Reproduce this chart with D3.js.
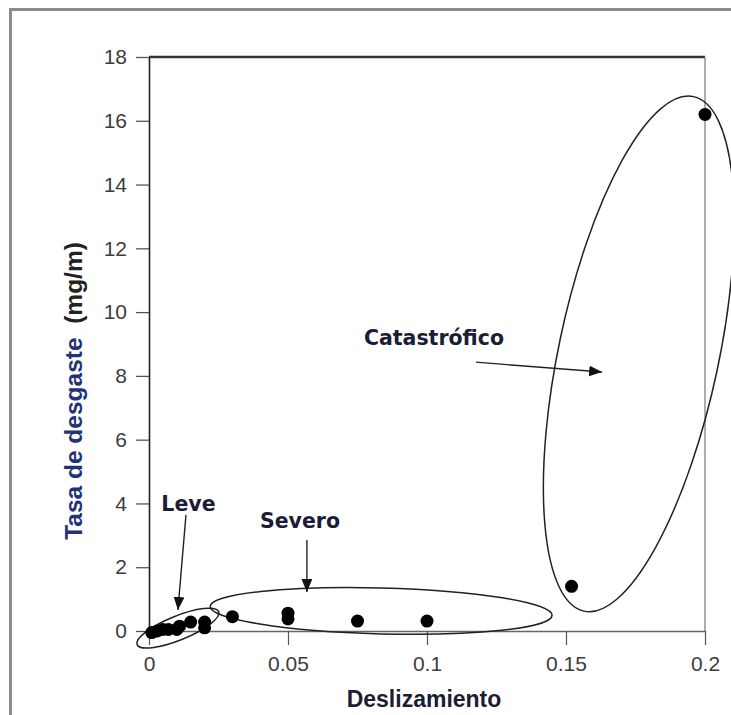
<!DOCTYPE html>
<html>
<head>
<meta charset="utf-8">
<script src="https://cdn.jsdelivr.net/npm/d3@7"></script>
<style>
  body { margin: 0; background: #fff; }
  svg { display: block; }
</style>
</head>
<body>
<script>
// valores
let slip = [0.001, 0.003, 0.005, 0.007, 0.01, 0.011, 0.015, 0.02, 0.02, 0.03, 0.05, 0.05, 0.075, 0.1, 0.152, 0.2]
let wear = [-0.05, 0.0, 0.05, 0.05, 0.05, 0.15, 0.28, 0.28, 0.1, 0.45, 0.56, 0.38, 0.31, 0.31, 1.4, 16.2]

let xTicks = [0, 0.05, 0.1, 0.15, 0.2]
let xTickLabels = ['0', '0.05', '0.1', '0.15', '0.2']
let yTicks = [0, 2, 4, 6, 8, 10, 12, 14, 16, 18]

// regiones: nombre, centro de la elipse, inicio y punta de la flecha, texto
let regionNames = ['Leve', 'Severo', 'Catastrófico']
let regionCenters = [[0.0104, 0.09], [0.0835, 0.63], [0.1762, 8.69]]
let arrowFrom = [[0.0133, 3.64], [0.0568, 2.85], [0.1176, 8.43]]
let arrowTo = [[0.0104, 0.66], [0.0568, 1.22], [0.163, 8.12]]
let labelAt = [[0.0142, 4.0], [0.0543, 3.45], [0.1025, 9.2]]

let width = 731
let height = 715
let margin = { top: 57, bottom: 84, left: 149, right: 26 }

let x = d3.scaleLinear().domain([0, 0.2]).range([margin.left, width - margin.right])
let y = d3.scaleLinear().domain([0, 18]).range([height - margin.bottom, margin.top])

// forma de cada elipse en pixeles: radio x, radio y, giro
let ellipseShape = [
  { rx: 44, ry: 12, rot: -22 },
  { rx: 171, ry: 23, rot: 1.5 },
  { rx: 263, ry: 80, rot: -78 }
]

let svg = d3.select('body')
  .append('svg')
  .attr('width', width)
  .attr('height', height)

// marco exterior
svg.append('rect')
  .attr('x', 10.5)
  .attr('y', 9.5)
  .attr('width', 900)
  .attr('height', 900)
  .attr('fill', 'none')
  .attr('stroke', '#8c8c8c')
  .attr('stroke-width', 3)

svg.append('defs')
  .append('marker')
  .attr('id', 'head')
  .attr('markerUnits', 'userSpaceOnUse')
  .attr('viewBox', '0 0 12 10')
  .attr('refX', 12)
  .attr('refY', 5)
  .attr('markerWidth', 13)
  .attr('markerHeight', 11)
  .attr('orient', 'auto')
  .append('path')
  .attr('d', 'M0,0 L12,5 L0,10 Z')
  .attr('fill', '#111')

// linea superior y derecha del recuadro
svg.append('line')
  .attr('x1', x(0)).attr('x2', x(0.2))
  .attr('y1', y(18)).attr('y2', y(18))
  .attr('stroke', '#333')
  .attr('stroke-width', 2.5)

svg.append('line')
  .attr('x1', x(0.2)).attr('x2', x(0.2))
  .attr('y1', y(18)).attr('y2', y(0))
  .attr('stroke', '#777')
  .attr('stroke-width', 1.2)

let xAxis = svg.append('g')
  .attr('transform', 'translate(0,' + y(0) + ')')
  .call(d3.axisBottom(x)
    .tickValues(xTicks)
    .tickFormat((d, i) => xTickLabels[i])
    .tickSize(14)
    .tickSizeOuter(0)
    .tickPadding(11))

xAxis.select('.domain').attr('stroke', '#666').attr('stroke-width', 1.3)
xAxis.selectAll('.tick line').attr('stroke', '#555').attr('stroke-width', 1.2)
xAxis.selectAll('text')
  .attr('font-family', 'Liberation Sans, Arial, sans-serif')
  .attr('font-size', 21)
  .attr('fill', '#3c3c3c')

let yAxis = svg.append('g')
  .attr('transform', 'translate(' + x(0) + ',0)')
  .call(d3.axisLeft(y)
    .tickValues(yTicks)
    .tickSize(13)
    .tickSizeOuter(0)
    .tickPadding(9))

yAxis.select('.domain').attr('stroke', '#222').attr('stroke-width', 1.6)
yAxis.selectAll('.tick line').attr('stroke', '#555').attr('stroke-width', 1.3)
yAxis.selectAll('text')
  .attr('font-family', 'Liberation Sans, Arial, sans-serif')
  .attr('font-size', 21)
  .attr('fill', '#3c3c3c')

// titulos de ejes
svg.append('text')
  .attr('x', x(0.1) - 3)
  .attr('y', 707)
  .attr('text-anchor', 'middle')
  .attr('font-family', 'Liberation Sans, Arial, sans-serif')
  .attr('font-weight', 'bold')
  .attr('font-size', 23)
  .attr('fill', '#1a1d33')
  .text('Deslizamiento')

let yTitle = svg.append('text')
  .attr('transform', 'translate(82,391) rotate(-90)')
  .attr('text-anchor', 'middle')
  .attr('font-family', 'Liberation Sans, Arial, sans-serif')
  .attr('font-weight', 'bold')
  .attr('font-size', 24.5)

yTitle.append('tspan').attr('fill', '#1f3378').text('Tasa de desgaste')
yTitle.append('tspan').attr('fill', '#222').text('\u00a0\u00a0(mg/m)')

// elipses
svg.selectAll('.region')
  .data(regionCenters)
  .enter()
  .append('ellipse')
  .attr('class', 'region')
  .attr('transform', (d, i) => 'translate(' + x(d[0]) + ',' + y(d[1]) + ') rotate(' + ellipseShape[i].rot + ')')
  .attr('rx', (d, i) => ellipseShape[i].rx)
  .attr('ry', (d, i) => ellipseShape[i].ry)
  .attr('fill', 'none')
  .attr('stroke', '#222')
  .attr('stroke-width', 1.5)

// flechas
svg.selectAll('.arrow')
  .data(arrowFrom)
  .enter()
  .append('line')
  .attr('class', 'arrow')
  .attr('x1', d => x(d[0]))
  .attr('y1', d => y(d[1]))
  .attr('x2', (d, i) => x(arrowTo[i][0]))
  .attr('y2', (d, i) => y(arrowTo[i][1]))
  .attr('stroke', '#222')
  .attr('stroke-width', 1.4)
  .attr('marker-end', 'url(#head)')

svg.selectAll('.label')
  .data(regionNames)
  .enter()
  .append('text')
  .attr('class', 'label')
  .attr('x', (d, i) => x(labelAt[i][0]))
  .attr('y', (d, i) => y(labelAt[i][1]))
  .attr('dy', '0.35em')
  .attr('text-anchor', 'middle')
  .attr('font-family', 'DejaVu Sans, Verdana, sans-serif')
  .attr('font-weight', 'bold')
  .attr('font-size', 20.5)
  .attr('fill', '#1a1d33')
  .text(d => d)

// puntos
svg.selectAll('.dot')
  .data(slip)
  .enter()
  .append('circle')
  .attr('class', 'dot')
  .attr('cx', d => x(d))
  .attr('cy', (d, i) => y(wear[i]))
  .attr('r', 6.5)
  .attr('fill', '#000')
</script>
</body>
</html>
